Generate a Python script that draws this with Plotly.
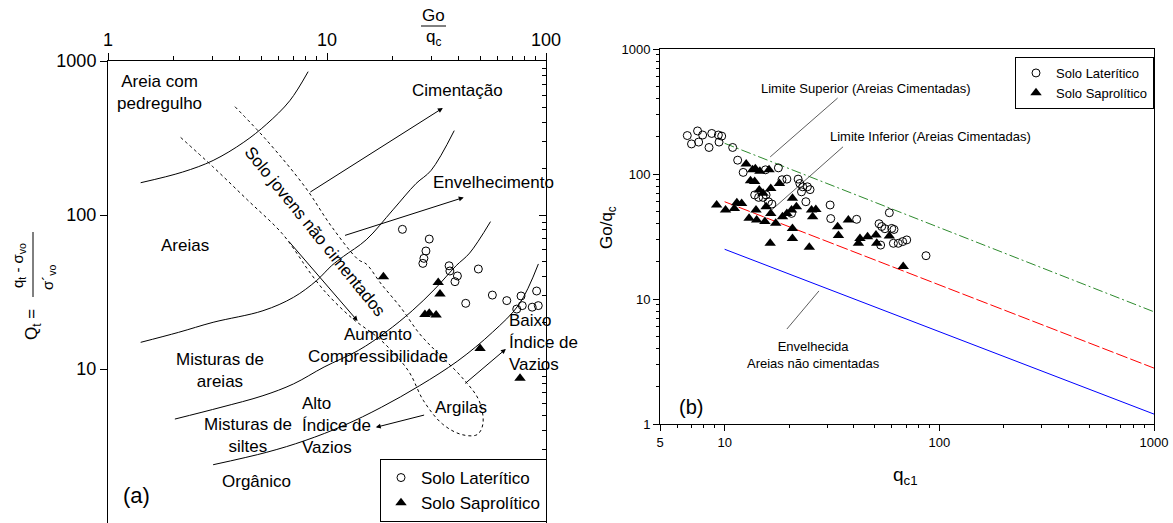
import math
import plotly.graph_objects as go

W, H = 1173, 523
FONT = "Liberation Sans, Arial, sans-serif"

# ---------------- Panel (a) data ----------------
a_lat_goqc = [22.1, 29.3, 28.3, 27.7, 27.4, 36.1, 36.4, 39.4, 38.4, 49.1, 43.0,
              56.9, 66.2, 76.9, 73.5, 77.9, 90.6, 86.5, 92.2]
a_lat_qt = [80.7, 69.8, 58.4, 52.3, 48.5, 46.8, 43.3, 40.2, 36.9, 44.6, 26.7,
            30.2, 27.8, 29.8, 24.5, 25.8, 32.1, 25.2, 25.8]
a_sap_goqc = [18.1, 32.2, 32.8, 28.0, 29.3, 31.5, 50.0, 76.1]
a_sap_qt = [39.7, 36.5, 30.7, 22.6, 23.0, 22.4, 13.6, 8.7]

# zone boundaries (Go/qc, Qt)
b1_x = [1.41, 2.19, 3.02, 4.17, 5.31, 6.76, 8.2]
b1_y = [162, 190, 226, 297, 390, 552, 853]
b2_x = [1.41, 2.10, 3.02, 5.10, 7.03, 8.96, 10.5, 11.9, 15.1, 20.0, 25.5, 29.9, 38.1]
b2_y = [14.9, 17.3, 20.1, 23.9, 29.2, 37.5, 46.9, 53.9, 69, 108, 160, 195, 353]
b3_x = [2.02, 3.28, 5.10, 7.03, 9.70, 13.9, 18.5, 24.5, 31.1, 38.9, 44.8, 55.8]
b3_y = [4.73, 5.64, 6.71, 8.0, 10.3, 13.2, 17.3, 23.9, 33.1, 46.9, 56.6, 90.6]
b4_x = [3.02, 5.31, 7.94, 11.9, 17.7, 26.5, 39.6, 56.9, 75.5, 92.3]
b4_y = [2.39, 2.88, 3.43, 4.29, 5.64, 7.80, 11.3, 17.3, 26.4, 48.1]

# dotted envelope "solo jovens nao cimentados"
env_x = [3.80, 5.31, 7.94, 10.5, 13.9, 15.1, 17.7, 21.7, 26.5, 32.4, 41.3, 49.5,
         51.5, 48.5, 41.3, 33.7, 27.6, 23.5, 17.7, 12.9, 9.7, 7.94, 7.62, 6.23,
         4.34, 3.02, 2.10]
env_y = [505, 305, 152, 84, 51.3, 48.1, 35.6, 25.1, 16.9, 12.5, 8.83, 6.22,
         4.39, 3.75, 3.75, 4.39, 6.22, 9.75, 15.3, 21.6, 32.3, 46.9, 51.3, 76,
         125, 205, 328]

# arrows (start x, start y, end x, end y)
arrows_a = [
    (8.26, 139, 33.8, 495),    # Cimentacao
    (11.9, 73.2, 42.1, 130),   # Envelhecimento
    (6.6, 69, 13.8, 20.5),     # Aumento compressibilidade
    (28.2, 5.05, 16.7, 4.18),  # Alto indice de vazios
    (42.1, 7.91, 65.6, 13.5),  # Baixo indice de vazios
]

# ---------------- Panel (b) data ----------------
b_lat_qc1 = [6.70, 7.48, 7.90, 7.57, 7.01, 8.71, 9.35, 9.69, 8.46, 9.42, 10.9, 11.5, 12.2,
             15.5, 17.8, 18.5, 19.5, 22.0, 22.4, 23.1, 24.3, 25.0, 22.8, 23.9,
             13.8, 14.4, 15.1, 15.6, 16.0, 16.6, 20.5,
             31.0, 31.2, 41.2, 52.4, 53.9, 55.8, 58.5, 60.0, 61.5,
             53.3, 61.1, 64.4, 67.5, 70.5, 86.7]
b_lat_goqc = [203, 221, 205, 180, 174, 211, 205, 201, 163, 180, 163, 129, 103,
              108, 112, 90, 91, 91, 84, 79, 79, 75, 72, 60,
              68, 65, 65, 68, 60, 57.5, 48.4,
              56.5, 44, 43.4, 40, 38, 36.5, 49, 36.7, 36,
              27, 27.9, 27.9, 28.8, 29.7, 22.2]
b_sap_qc1 = [9.18, 10.1, 11.1, 11.4, 12.0,
             12.6, 13.5, 14.6, 16.1, 13.9,
             13.2, 13.8, 14.5, 15.1, 16.4, 18.0,
             15.6, 14.0, 13.0, 14.1, 15.4, 16.4, 17.3,
             20.7, 21.6, 18.6, 19.5, 20.5, 20.7, 20.7, 16.3, 24.8,
             25.4, 26.6, 25.7, 33.6, 33.9, 37.7, 42.7, 42.0, 46.3, 50.7, 51.1, 58.5, 67.9]
b_sap_goqc = [56.5, 51.5, 53, 59, 58.2,
              120, 108, 105, 108, 110,
              88.5, 87, 74.5, 70, 76.7, 84,
              54.8, 51.5, 44.2, 42.8, 41.6, 48.4, 40.3,
              63.9, 54.8, 45.6, 48.4, 51.5, 36.7, 30.5, 27.9, 25.9,
              51.5, 52.1, 45.6, 37.9, 32.2, 42.8, 30.5, 27.9, 31.5, 32.5, 27.9, 31.9, 18.2]

lim_qc1 = [10, 1000]
lim_sup = [176, 7.9]     # limite superior (areias cimentadas)
lim_inf = [60, 2.8]      # limite inferior (areias cimentadas)
lim_env = [25, 1.2]      # envelhecida, areias nao cimentadas

lead_sup_x, lead_sup_y = [33.6, 16.3], [405, 137]
lead_inf_x, lead_inf_y = [35.6, 16.4], [165, 50.8]
lead_env_x, lead_env_y = [27.5, 19.5], [11.6, 5.75]


def px(x):
    return x / W


def py(y):
    return 1 - y / H


fig = go.Figure()

for xs, ys in [(b1_x, b1_y), (b2_x, b2_y), (b3_x, b3_y), (b4_x, b4_y)]:
    fig.add_trace(go.Scatter(x=xs, y=ys, mode="lines", line=dict(color="black", width=1, shape="spline"),
                             showlegend=False, hoverinfo="skip", xaxis="x", yaxis="y"))
fig.add_trace(go.Scatter(x=env_x, y=env_y, mode="lines",
                         line=dict(color="black", width=1, dash="dot", shape="spline"),
                         showlegend=False, hoverinfo="skip", xaxis="x", yaxis="y"))
fig.add_trace(go.Scatter(x=a_lat_goqc, y=a_lat_qt, mode="markers", name="Solo Laterítico",
                         marker=dict(symbol="circle-open", size=8, color="black", line=dict(width=1)),
                         xaxis="x", yaxis="y", legend="legend"))
fig.add_trace(go.Scatter(x=a_sap_goqc, y=a_sap_qt, mode="markers", name="Solo Saprolítico",
                         marker=dict(symbol="triangle-up", size=10, color="black"),
                         xaxis="x", yaxis="y", legend="legend"))
# invisible trace for right-hand mirror axis of panel (a)
fig.add_trace(go.Scatter(x=[10], y=[10], mode="markers", marker=dict(opacity=0), showlegend=False,
                         hoverinfo="skip", xaxis="x", yaxis="y3"))

# panel (b)
fig.add_trace(go.Scatter(x=lim_qc1, y=lim_sup, mode="lines",
                         line=dict(color="#2e8b2e", width=1, dash="10px,3px,2px,3px"),
                         showlegend=False, hoverinfo="skip", xaxis="x2", yaxis="y2"))
fig.add_trace(go.Scatter(x=lim_qc1, y=lim_inf, mode="lines",
                         line=dict(color="red", width=1, dash="12px,3px"),
                         showlegend=False, hoverinfo="skip", xaxis="x2", yaxis="y2"))
fig.add_trace(go.Scatter(x=lim_qc1, y=lim_env, mode="lines",
                         line=dict(color="blue", width=1),
                         showlegend=False, hoverinfo="skip", xaxis="x2", yaxis="y2"))
for xs, ys in [(lead_sup_x, lead_sup_y), (lead_inf_x, lead_inf_y), (lead_env_x, lead_env_y)]:
    fig.add_trace(go.Scatter(x=xs, y=ys, mode="lines", line=dict(color="#333333", width=0.8),
                             showlegend=False, hoverinfo="skip", xaxis="x2", yaxis="y2"))
fig.add_trace(go.Scatter(x=b_lat_qc1, y=b_lat_goqc, mode="markers", name="Solo Laterítico",
                         marker=dict(symbol="circle-open", size=8, color="black", line=dict(width=1)),
                         xaxis="x2", yaxis="y2", legend="legend2"))
fig.add_trace(go.Scatter(x=b_sap_qc1, y=b_sap_goqc, mode="markers", name="Solo Saprolítico",
                         marker=dict(symbol="triangle-up", size=10, color="black"),
                         xaxis="x2", yaxis="y2", legend="legend2"))

minor_a = [2, 3, 4, 5, 6, 7, 8, 9, 20, 30, 40, 50, 60, 70, 80, 90, 200, 300, 400, 500, 600, 700, 800, 900]
minor_b = [6, 7, 8, 9, 20, 30, 40, 50, 60, 70, 80, 90, 200, 300, 400, 500, 600, 700, 800, 900]

ax_common = dict(type="log", showgrid=False, zeroline=False, showline=True, linecolor="black",
                 linewidth=1, tickcolor="black", automargin=False)

annotations = []


def txt(x, y, s, size=17, **kw):
    d = dict(x=px(x), y=py(y), xref="paper", yref="paper", text=s, showarrow=False,
             xanchor="center", yanchor="middle",
             font=dict(size=size, family=FONT, color="black"))
    d.update(kw)
    annotations.append(d)


for x0, y0, x1, y1 in arrows_a:
    annotations.append(dict(x=math.log10(x1), y=math.log10(y1), ax=math.log10(x0), ay=math.log10(y0),
                            xref="x", yref="y", axref="x", ayref="y", text="", showarrow=True,
                            arrowhead=2, arrowsize=1, arrowwidth=1, arrowcolor="black"))

# panel (a) texts
txt(159, 93, "Areia com<br>pedregulho")
txt(457, 90, "Cimentação")
txt(493, 182, "Envelhecimento")
txt(185, 245, "Areias")
txt(315, 231, "Solo jovens não cimentados", textangle=51)
txt(378, 345, "Aumento<br>Compressibilidade")
txt(220, 370, "Misturas de<br>areias")
txt(300, 425, "Alto<br>Índice de<br>Vazios", xanchor="left", align="left")
txt(248, 435, "Misturas de<br>siltes")
txt(461, 407, "Argilas")
txt(507, 342, "Baixo<br>Índice de<br>Vazios", xanchor="left", align="left")
txt(256, 481, "Orgânico")
txt(136, 495, "(a)", size=22)
txt(433, 16, "Go", size=17)
txt(433, 38, "q<sub>c</sub>", size=17)
txt(33, 325, "Q<sub>t</sub> =", size=17, textangle=-90)
txt(18, 266, "q<sub>t</sub> - σ<sub>vo</sub>", size=15, textangle=-90)
txt(48, 277, "σ´<sub>vo</sub>", size=15, textangle=-90)

# panel (b) texts
txt(866, 88, "Limite Superior (Areias Cimentadas)", size=13)
txt(930, 136, "Limite Inferior (Areias Cimentadas)", size=13)
txt(813, 355, "Envelhecida<br>Areias não cimentadas", size=13)
txt(691, 407, "(b)", size=20)
txt(608, 228, "Go/q<sub>c</sub>", size=17, textangle=-90)
txt(905, 476, "q<sub>c1</sub>", size=19)

shapes = [
    dict(type="line", xref="paper", yref="paper", x0=px(421), x1=px(446), y0=py(26), y1=py(26),
         line=dict(color="black", width=1)),
    dict(type="line", xref="paper", yref="paper", x0=px(33), x1=px(33), y0=py(232), y1=py(297),
         line=dict(color="black", width=1)),
]

fig.update_layout(
    width=W, height=H, autosize=False,
    margin=dict(l=0, r=0, t=0, b=0, pad=0),
    paper_bgcolor="white", plot_bgcolor="white",
    font=dict(family=FONT, color="black"),
    xaxis=dict(**ax_common, domain=[px(108), px(546)], range=[0, 2], side="top", anchor="y",
               mirror=True, ticks="outside", ticklen=7, tickvals=[1, 10, 100],
               ticktext=["1", "10", "100"], tickfont=dict(size=18),
               minor=dict(tickvals=minor_a, ticks="outside", ticklen=4, tickcolor="black")),
    yaxis=dict(**ax_common, domain=[0, py(61)], range=[0, 3], anchor="x",
               ticks="outside", ticklen=7, tickvals=[1, 10, 100, 1000],
               ticktext=["1", "10", "100", "1000"], tickfont=dict(size=18)),
    yaxis3=dict(**ax_common, range=[0, 3], overlaying="y", side="right", anchor="x",
                ticks="inside", ticklen=7, tickvals=[1, 10, 100, 1000], showticklabels=False,
                minor=dict(tickvals=minor_a, ticks="inside", ticklen=4, tickcolor="black")),
    xaxis2=dict(**ax_common, domain=[px(660), px(1154)], range=[math.log10(5), 3], anchor="y2",
                mirror=True, ticks="outside", ticklen=6, tickvals=[5, 10, 100, 1000],
                ticktext=["5", "10", "100", "1000"], tickfont=dict(size=13),
                minor=dict(tickvals=minor_b, ticks="outside", ticklen=3, tickcolor="black")),
    yaxis2=dict(**ax_common, domain=[py(424), py(49)], range=[0, 3], anchor="x2",
                mirror=True, ticks="outside", ticklen=6, tickvals=[1, 10, 100, 1000],
                ticktext=["1", "10", "100", "1000"], tickfont=dict(size=13),
                minor=dict(tickvals=minor_a, ticks="outside", ticklen=3, tickcolor="black")),
    legend=dict(x=px(547), xanchor="right", y=py(459), yanchor="top", bgcolor="white",
                bordercolor="black", borderwidth=1, font=dict(size=17, family=FONT)),
    legend2=dict(x=px(1154), xanchor="right", y=py(57), yanchor="top", bgcolor="white",
                 bordercolor="black", borderwidth=1, font=dict(size=13, family=FONT)),
    annotations=annotations,
    shapes=shapes,
)

fig.write_html("out.html")
